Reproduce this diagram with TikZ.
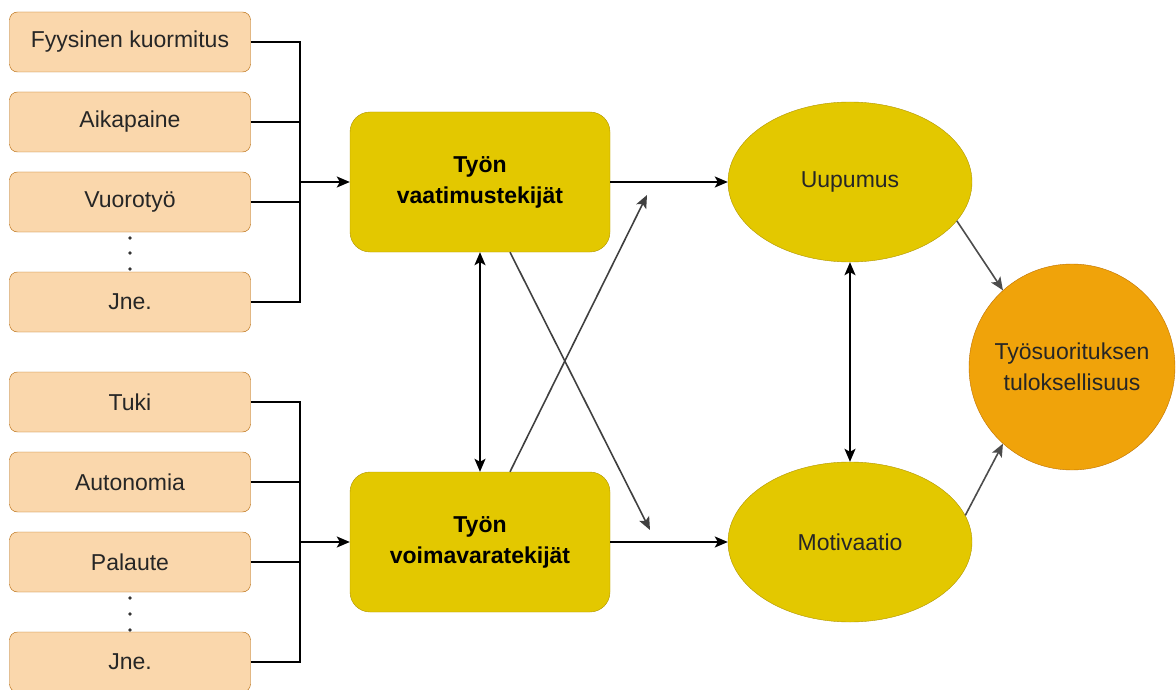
\documentclass[tikz,border=0pt]{standalone}
\usepackage{fontspec}
\setmainfont{Liberation Sans}
\usetikzlibrary{shapes.geometric,arrows.meta}
\definecolor{lightorange}{HTML}{FAD7AC}
\definecolor{darkorange}{HTML}{B46504}
\definecolor{boxyellow}{HTML}{E3C800}
\definecolor{edgeyellow}{HTML}{B09500}
\definecolor{resultorange}{HTML}{F0A30A}
\definecolor{edgeresult}{HTML}{BD7000}
\begin{document}
\begin{tikzpicture}[x=1pt,y=-1pt,
  factor/.style={draw=darkorange,fill=lightorange,rounded corners=8pt,minimum width=241pt,minimum height=60pt,inner sep=0pt,text=black!85},
  group/.style={draw=edgeyellow,fill=boxyellow,rounded corners=20pt,minimum width=260pt,minimum height=140pt,inner sep=0pt,align=center,font=\bfseries\fontsize{23}{31}\selectfont},
  state/.style={ellipse,draw=edgeyellow,fill=boxyellow,minimum width=244pt,minimum height=160pt,inner sep=0pt,text=black!85},
  wire/.style={line width=1.6pt},
  link/.style={wire,-{Stealth[length=13pt,width=11pt,inset=3pt]}},
  twoway/.style={wire,{Stealth[length=13pt,width=11pt,inset=3pt]}-{Stealth[length=13pt,width=11pt,inset=3pt]}},
  font=\fontsize{23}{31}\selectfont]
\useasboundingbox (0,0) rectangle (1176,690);
% vaatimukset
\node[factor] (fk) at (130,42) {Fyysinen kuormitus};
\node[factor] (ap) at (130,122) {Aikapaine};
\node[factor] (vt) at (130,202) {Vuorotyö};
\node[factor] (jv) at (130,302) {Jne.};
\foreach \y in {238,253,269} \fill[black!80] (130,\y) circle (1.8);
% voimavarat
\node[factor] (tk) at (130,402) {Tuki};
\node[factor] (au) at (130,482) {Autonomia};
\node[factor] (pl) at (130,562) {Palaute};
\node[factor] (jr) at (130,662) {Jne.};
\foreach \y in {598,614,630} \fill[black!80] (130,\y) circle (1.8);
\node[group] (vaat) at (480,182) {Työn\\vaatimustekijät};
\node[group] (voim) at (480,542) {Työn\\voimavaratekijät};
\node[state] (uup) at (850,182) {Uupumus};
\node[state] (mot) at (850,542) {Motivaatio};
\node[circle,draw=edgeresult,fill=resultorange,minimum size=206pt,inner sep=0pt,align=center,text=black!85] (tulos) at (1072,367) {Työsuorituksen\\tuloksellisuus};
\coordinate (busA) at (300,182);
\coordinate (busB) at (300,542);
\coordinate (tipA) at (650,530);
\coordinate (tipB) at (647,195);
\draw[wire] (fk.east) -| (busA);
\draw[wire] (ap.east) -| (busA);
\draw[wire] (vt.east) -| (busA);
\draw[wire] (jv.east) -| (busA);
\draw[link] (busA) -- (vaat.west);
\draw[wire] (tk.east) -| (busB);
\draw[wire] (au.east) -| (busB);
\draw[wire] (pl.east) -| (busB);
\draw[wire] (jr.east) -| (busB);
\draw[link] (busB) -- (voim.west);
\draw[twoway] (vaat.south) -- (voim.north);
\draw[link,black!75] ([xshift=30pt]vaat.south) -- (tipA);
\draw[link,black!75] ([xshift=30pt]voim.north) -- (tipB);
\draw[link] (vaat.east) -- (uup.west);
\draw[link] (voim.east) -- (mot.west);
\draw[twoway] (uup.south) -- (mot.north);
\draw[link,black!70] (uup.-20) -- (tulos.132);
\draw[link,black!70] (mot.13) -- (tulos.228);
\end{tikzpicture}
\end{document}
